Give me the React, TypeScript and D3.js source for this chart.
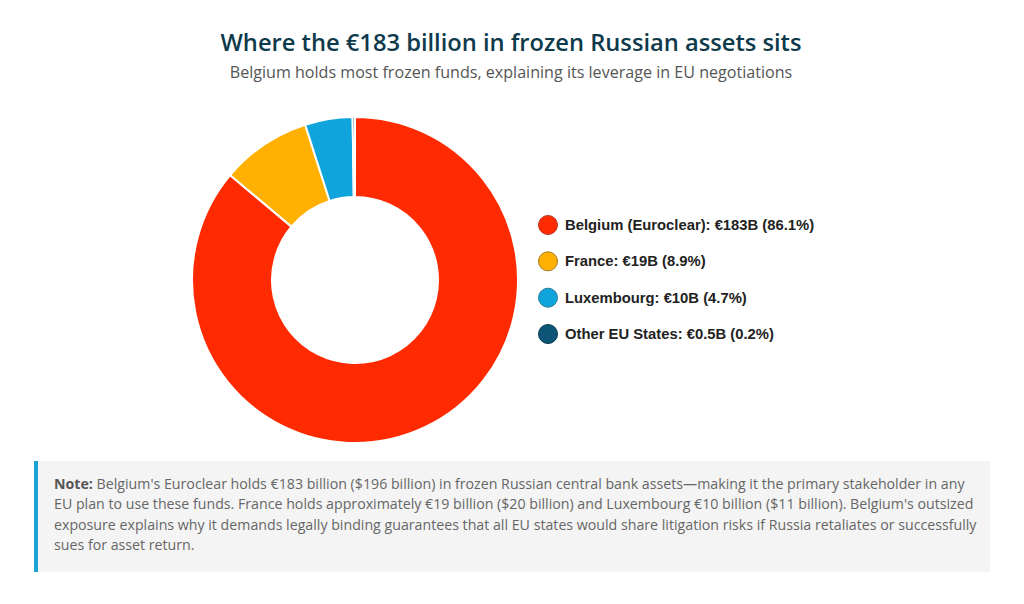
import React from "react";
import * as d3 from "d3";

const labels = ["Belgium (Euroclear)", "France", "Luxembourg", "Other EU States"];
const values = [183, 19, 10, 0.5];
const valueLabels = ["€183B", "€19B", "€10B", "€0.5B"];
const pctLabels = ["86.1%", "8.9%", "4.7%", "0.2%"];
const colors = ["#ff2a00", "#ffb000", "#10a4dc", "#0b5576"];
const strokes = ["#b03a20", "#a07a20", "#2a7ea0", "#0a3a50"];

const noteLines = [
  "Belgium's Euroclear holds €183 billion ($196 billion) in frozen Russian central bank assets—making it the primary stakeholder in any",
  "EU plan to use these funds. France holds approximately €19 billion ($20 billion) and Luxembourg €10 billion ($11 billion). Belgium's outsized",
  "exposure explains why it demands legally binding guarantees that all EU states would share litigation risks if Russia retaliates or successfully",
  "sues for asset return.",
];

export default function App() {
  const W = 1024, H = 604;
  const cx = 355, cy = 280, rOut = 163, rIn = 83;
  const pie = d3.pie<number>().sort(null).value((d) => d);
  const arcs = pie(values);
  const arc = d3.arc<d3.PieArcDatum<number>>().innerRadius(rIn).outerRadius(rOut);
  const legendY = d3.scaleLinear().domain([0, 3]).range([225, 334]);
  const font = "'Open Sans', 'Noto Sans', sans-serif";
  return (
    <svg width={W} height={H} style={{ position: "absolute", left: 0, top: 0, background: "#fff" }}>
      <text x={511} y={51} textAnchor="middle" fontFamily={font} fontSize={23.7} fontWeight={600} fill="#0e3a4c">
        Where the €183 billion in frozen Russian assets sits
      </text>
      <text x={511} y={78} textAnchor="middle" fontFamily={font} fontSize={16.1} fill="#555">
        Belgium holds most frozen funds, explaining its leverage in EU negotiations
      </text>
      <g transform={`translate(${cx},${cy})`}>
        {arcs.map((a, i) => (
          <path key={i} d={arc(a) || ""} fill={colors[i]} stroke="#fff" strokeWidth={2} />
        ))}
      </g>
      {labels.map((l, i) => (
        <g key={l} transform={`translate(548,${legendY(i)})`}>
          <circle r={9.5} fill={colors[i]} stroke={strokes[i]} strokeWidth={1} />
          <text x={17} y={5} fontFamily="'Liberation Sans', Arial, sans-serif" fontWeight={700} fontSize={14.8} fill="#222">
            {`${l}: ${valueLabels[i]} (${pctLabels[i]})`}
          </text>
        </g>
      ))}
      <rect x={34} y={461} width={956} height={111} fill="#f4f4f4" />
      <rect x={34} y={461} width={4} height={111} fill="#1ba3d6" />
      {noteLines.map((ln, i) => (
        <text key={i} x={54} y={489 + i * 20.3} fontFamily={font} fontSize={14.2} fill="#666">
          {i === 0 && <tspan fontWeight={700} fill="#555">Note: </tspan>}
          {ln}
        </text>
      ))}
    </svg>
  );
}
